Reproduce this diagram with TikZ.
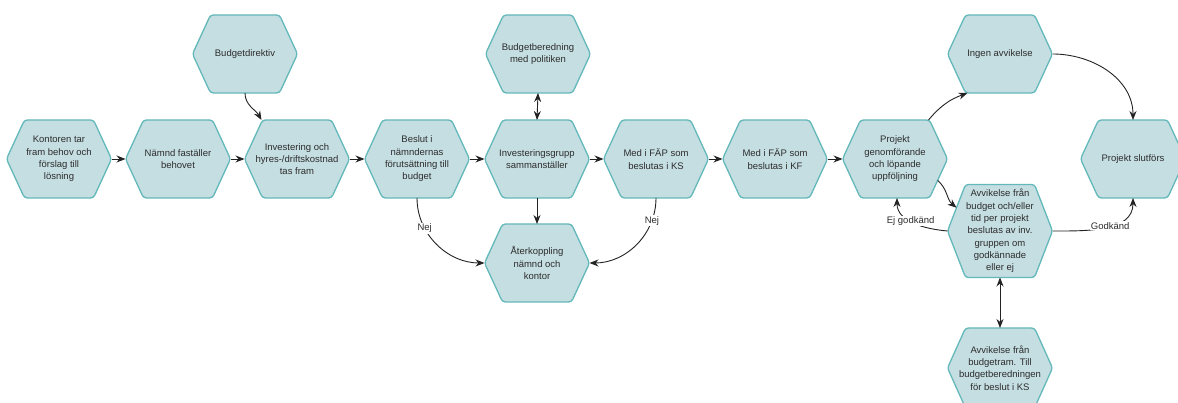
\documentclass[tikz,border=0pt]{standalone}
\usepackage{fontspec}
\setmainfont{Liberation Sans}
\usetikzlibrary{calc,arrows.meta}
\pgfdeclarelayer{background}
\pgfsetlayers{background,main}
\definecolor{hexfill}{RGB}{197,222,226}
\definecolor{hexline}{RGB}{99,184,186}
\definecolor{txt}{RGB}{45,45,45}
\definecolor{conn}{RGB}{35,35,35}
\tikzset{
  hex/.style={minimum width=105pt, minimum height=78pt, outer sep=0pt, inner sep=1pt,
    align=center, text=txt, font=\fontsize{9.5}{12.3}\selectfont},
  hexshape/.style={fill=hexfill, draw=hexline, line width=1.3pt, rounded corners=3pt},
  arr/.style={draw=conn, line width=0.9pt, -{Stealth[length=9pt,width=7pt]}},
  darr/.style={draw=conn, line width=0.9pt, {Stealth[length=9pt,width=7pt]}-{Stealth[length=9pt,width=7pt]}},
  lbl/.style={fill=white, inner sep=1pt, text=txt, font=\fontsize{9.5}{11}\selectfont}
}
\begin{document}
\begin{tikzpicture}[x=1pt,y=1pt]
\useasboundingbox (0,0) rectangle (1178,403);
% main row
\node[hex] (k1) at (59,244) {Kontoren tar\\fram behov och\\förslag till\\lösning};
\node[hex] (k2) at (178,244) {Nämnd faställer\\behovet};
\node[hex] (k3) at (297,244) {Investering och\\hyres-/driftskostnad\\tas fram};
\node[hex] (k4) at (417,244) {Beslut i\\nämndernas\\förutsättning till\\budget};
\node[hex] (k5) at (537,244) {Investeringsgrupp\\sammanställer};
\node[hex] (k6) at (656,244) {Med i FÄP som\\beslutas i KS};
\node[hex] (k7) at (775,244) {Med i FÄP som\\beslutas i KF};
\node[hex] (k8) at (895,244) {Projekt\\genomförande\\och löpande\\uppföljning};
\node[hex] (k9) at (1000,349) {Ingen avvikelse};
\node[hex] (k10) at (1133,244) {Projekt slutförs};
\node[hex, minimum height=93pt] (k11) at (1000,172) {Avvikelse från\\budget och/eller\\tid per projekt\\beslutas av inv.\\gruppen om\\godkännade\\eller ej};
\node[hex, minimum height=80pt] (k12) at (1000,35) {Avvikelse från\\budgetram. Till\\budgetberedningen\\för beslut i KS};
\node[hex] (b1) at (245,349) {Budgetdirektiv};
\node[hex] (b2) at (538,349) {Budgetberedning\\med politiken};
\node[hex] (a1) at (537,140) {Återkoppling\\nämnd och\\kontor};
% hexagon outlines
\begin{pgfonlayer}{background}
\foreach \n in {k1,k2,k3,k4,k5,k6,k7,k8,k9,k10,k11,k12,b1,b2,a1}{
  \draw[hexshape] (\n.west) -- ($(\n.north west)+(18,0)$) -- ($(\n.north east)+(-18,0)$)
     -- (\n.east) -- ($(\n.south east)+(-18,0)$) -- ($(\n.south west)+(18,0)$) -- cycle;
}
\end{pgfonlayer}
% corner coordinates
\coordinate (k3nw) at ($(k3.north west)+(17,0)$);
\coordinate (k8ne) at ($(k8.north east)+(-19,0)$);
\coordinate (k9sw) at ($(k9.south west)+(20,0)$);
\coordinate (k8se) at ($(k8.east)!0.55!($(k8.south east)+(-18,0)$)$);
\coordinate (k11nw) at ($(k11.west)!0.5!($(k11.north west)+(18,0)$)$);
\coordinate (k8s) at ($(k8.south)+(2,0)$);
% main row arrows
\draw[arr] (k1.east) -- (k2.west);
\draw[arr] (k2.east) -- (k3.west);
\draw[arr] (k3.east) -- (k4.west);
\draw[arr] (k4.east) -- (k5.west);
\draw[arr] (k5.east) -- (k6.west);
\draw[arr] (k6.east) -- (k7.west);
\draw[arr] (k7.east) -- (k8.west);
% other connectors
\draw[arr] (b1.south) to[out=-90, in=120] (k3nw);
\draw[darr] (b2.south) -- (k5.north);
\draw[arr] (k5.south) -- (a1.north);
\draw[arr] (k4.south) to[out=-90, in=180] node[lbl, pos=0.3] {Nej} (a1.west);
\draw[arr] (k6.south) to[out=-90, in=0] node[lbl, pos=0.22] {Nej} (a1.east);
\draw[arr] (k8ne) to[out=50, in=200] (k9sw);
\draw[arr] (k9.east) to[out=0, in=90] (k10.north);
\draw[arr] (k8se) to[out=-40, in=140] (k11nw);
\draw[arr] (k11.west) to[out=175, in=-90] node[lbl, pos=0.55] {Ej godkänd} (k8s);
\draw[arr] (k11.east) to[out=0, in=-90] node[lbl, pos=0.55] {Godkänd} (k10.south);
\draw[darr] (k11.south) -- (k12.north);
\end{tikzpicture}
\end{document}
